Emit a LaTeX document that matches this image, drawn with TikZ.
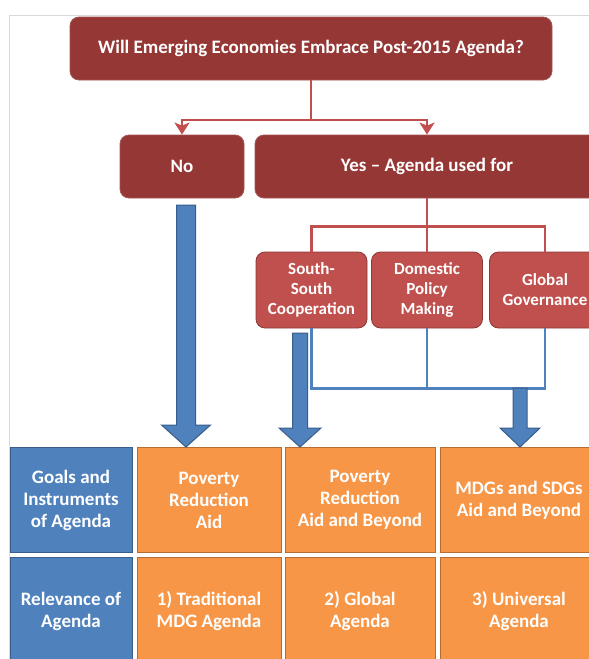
\documentclass[tikz,border=0pt]{standalone}
\usepackage{fontspec}
\setmainfont{Carlito}
\usetikzlibrary{calc,arrows.meta}

\definecolor{rojoosc}{HTML}{953735}
\definecolor{rojo}{HTML}{C0504D}
\definecolor{rojoborde}{HTML}{8C3836}
\definecolor{azul}{HTML}{4F81BD}
\definecolor{azulborde}{HTML}{385D8A}
\definecolor{naranja}{HTML}{F79646}
\definecolor{naranjaborde}{HTML}{B66D31}

\tikzset{
  caja/.style={rectangle, rounded corners=9pt, fill=rojoosc, draw=rojoosc!85!white, line width=0.8pt,
    text=white, align=center, font=\fontsize{19}{21}\selectfont\bfseries},
  cajita/.style={caja, fill=rojo, draw=rojoborde, font=\fontsize{17}{20}\selectfont\bfseries,
    minimum width=111pt, minimum height=76pt},
  celda/.style={rectangle, fill=naranja, draw=naranjaborde, line width=1pt, text=white,
    align=center, font=\fontsize{19}{22}\selectfont\bfseries, minimum height=105pt},
  celdaazul/.style={celda, fill=azul, draw=azulborde},
  linearoja/.style={draw=rojo, line width=2.5pt},
  lineaazul/.style={draw=azul, line width=2.5pt},
  bigarrow/.style={fill=azul, draw=azulborde, line width=1pt},
}

% flecha gruesa: inicio, destino, media caña, media punta, largo punta
\newcommand{\flechaazul}[5]{%
  \filldraw[bigarrow] let \p1=(#1), \p2=(#2) in
    (\x1-#3,\y1) -- (\x1+#3,\y1) -- (\x1+#3,\y2+#5) -- (\x1+#4,\y2+#5)
    -- (\x1,\y2) -- (\x1-#4,\y2+#5) -- (\x1-#3,\y2+#5) -- cycle;}

\begin{document}
\begin{tikzpicture}[x=1pt,y=-1pt]
\useasboundingbox (0,0) rectangle (589,659);
% marco
\draw[gray!30, line width=0.8pt] (9,659) -- (9,15) -- (589,15);
% pregunta
\node[caja, minimum width=482pt, minimum height=63pt] (top) at (311,48.5)
  {Will Emerging Economies Embrace Post-2015 Agenda?};
% No / Yes
\node[caja, minimum width=124pt, minimum height=63pt] (no) at (182,166.5) {No};
\node[caja, minimum width=344pt, minimum height=63pt] (yes) at (427,166.5) {Yes – Agenda used for};
% usos
\node[cajita] (ssc) at (311.5,290) {South-\\South\\Cooperation};
\node[cajita] (dom) at (427,290) {Domestic\\Policy\\Making};
\node[cajita] (glob) at (545,290) {Global\\Governance};
% conectores rojos
\coordinate (r1) at (311,120);
\draw[linearoja, -{Stealth[length=12pt,width=15pt,inset=3pt]}] (top.south) -- (r1) -| (no.north);
\draw[linearoja, -{Stealth[length=12pt,width=15pt,inset=3pt]}] (r1) -| (yes.north);
\draw[linearoja] (yes.south) -- ++(0,28) -| (ssc.north);
\draw[linearoja] (yes.south) ++(0,28) -| (glob.north);
\draw[linearoja] (yes.south) ++(0,28) -- (dom.north);
% conectores azules
\draw[lineaazul] (ssc.south) -- ++(0,60) -| (glob.south);
\draw[lineaazul] (dom.south) -- ++(0,60);
% tabla
\node[celdaazul, minimum width=122pt] (g0) at (71,500) {Goals and\\Instruments\\of Agenda};
\node[celda, minimum width=144pt] (g1) at (209,500) {Poverty\\Reduction\\Aid};
\node[celda, minimum width=150pt] (g2) at (360,500) {Poverty\\Reduction\\Aid and Beyond};
\node[celda, minimum width=158pt] (g3) at (519,500) {MDGs and SDGs\\Aid and Beyond};
\node[celdaazul, minimum width=122pt, minimum height=108pt] (r0) at (71,611) {Relevance of\\Agenda};
\node[celda, minimum width=144pt, minimum height=108pt] (rr1) at (209,611) {1) Traditional\\MDG Agenda};
\node[celda, minimum width=150pt, minimum height=108pt] (rr2) at (360,611) {2) Global\\Agenda};
\node[celda, minimum width=158pt, minimum height=108pt] (rr3) at (519,611) {3) Universal\\Agenda};
% flechas gruesas
\coordinate (a1) at (186,205);
\coordinate (a2) at (300,333);
\coordinate (a3) at (520,388);
\flechaazul{a1}{g1.north}{9.5pt}{24.5pt}{22pt}
\flechaazul{a2}{g2.north}{7.5pt}{21pt}{19pt}
\flechaazul{a3}{g3.north}{7pt}{20pt}{19pt}
\end{tikzpicture}
\end{document}
